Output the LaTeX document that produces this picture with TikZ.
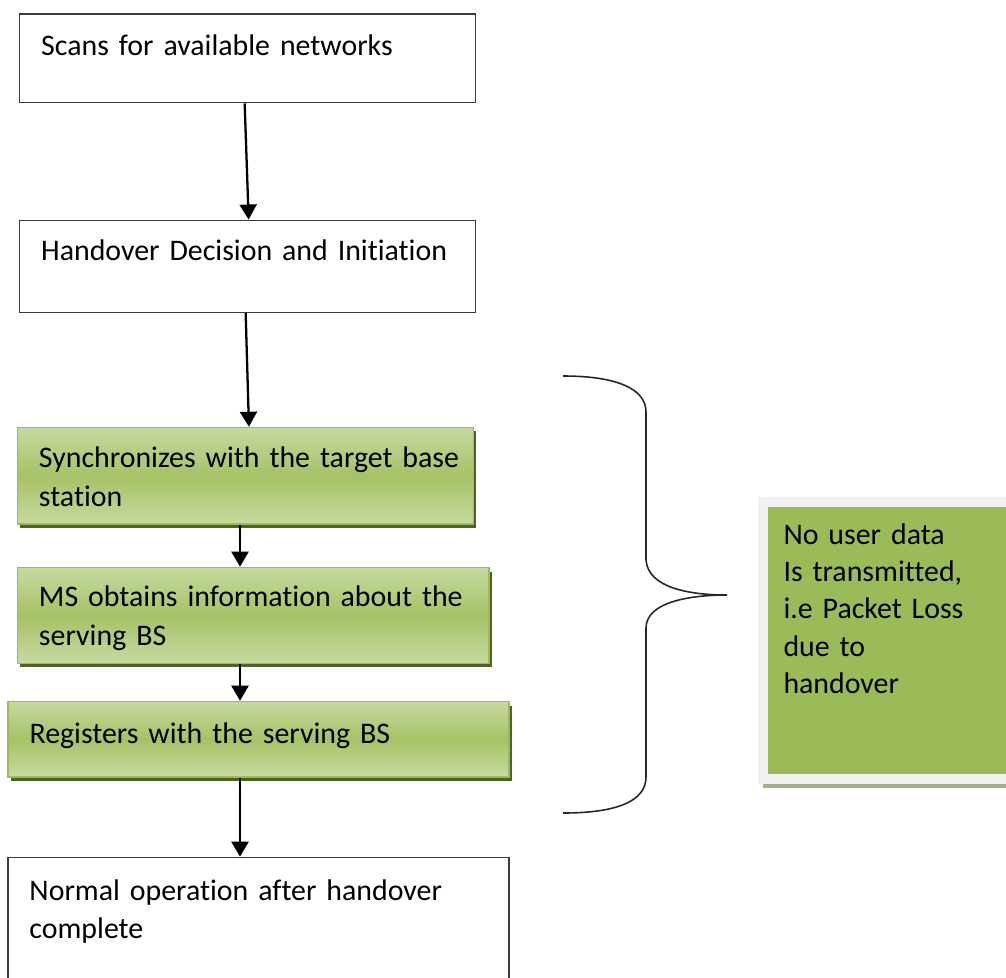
\documentclass[tikz,border=0pt]{standalone}
\usepackage{fontspec}
\setmainfont{Carlito}[Ligatures=NoCommon]
\usetikzlibrary{arrows.meta,shadows}

\definecolor{stepline}{HTML}{3C3C3C}
\definecolor{gEdge}{HTML}{9BBB59}
\definecolor{gLight}{HTML}{C6DAA0}
\definecolor{gMid}{HTML}{A6C266}
\definecolor{gShadow}{HTML}{4F6228}
\definecolor{noteGreen}{HTML}{9BBB59}
\definecolor{noteFrame}{HTML}{F0F0F0}
\definecolor{noteShadow}{HTML}{A3B08C}

\tikzset{
  stepbox/.style={draw=stepline, line width=0.8pt, fill=white, anchor=north west,
    inner xsep=0.43cm, inner ysep=0pt, align=left},
  greenbox/.style={stepbox, draw=gEdge, line width=0.9pt,
    top color=gLight, bottom color=gLight, middle color=gMid,
    drop shadow={shadow xshift=0.06cm, shadow yshift=-0.08cm, fill=gShadow, opacity=1}},
  notebox/.style={anchor=north west, fill=noteGreen, draw=noteFrame, line width=0.2cm,
    inner xsep=0.42cm, inner ysep=0pt, align=left, text width=4.61cm,
    font=\fontsize{17}{21.3}\selectfont,
    drop shadow={shadow xshift=0cm, shadow yshift=-0.18cm, fill=noteShadow, opacity=1}},
  flow/.style={line width=1.3pt, -{Triangle[length=0.3cm,width=0.34cm]}},
}

\begin{document}
\begin{tikzpicture}[x=0.02cm, y=-0.02cm, font=\fontsize{17}{22}\selectfont]
  \path[use as bounding box, clip] (0,0) rectangle (1006,977);

  % scanning
  \node[stepbox, text width=8.26cm, text height=0.834cm, text depth=0.94cm] (scan) at (19,13.3)
    {Scans for available networks};

  % decision
  \node[stepbox, text width=8.26cm, text height=0.81cm, text depth=1.034cm] (decide) at (19,219.5)
    {\mbox{Handover Decision and Initiation}};

  % steps without user data
  \node[greenbox, text width=8.26cm, text height=0.80cm, text depth=1.132cm] (sync) at (16.7,426.7)
    {\mbox{Synchronizes with the target base}\\station};
  \node[greenbox, text width=8.57cm, text height=0.786cm, text depth=1.132cm] (obtain) at (16.7,566.7)
    {\mbox{MS obtains information about the}\\serving BS};
  \node[greenbox, text width=9.16cm, text height=0.84cm, text depth=0.666cm] (register) at (7.3,700.7)
    {Registers with the serving BS};

  % back to normal
  \node[stepbox, text width=9.16cm, text height=0.852cm, text depth=2.8cm] (normal) at (7.3,856.7)
    {Normal operation after handover\\complete};

  % note on the right
  \node[notebox, text height=0.85cm, text depth=4.70cm] (note) at (757.5,496.5)
    {No user data\\Is transmitted,\\i.e Packet Loss\\due to\\handover};

  % arrows
  \coordinate (axis) at (240,0);
  \draw[flow] ([xshift=-0.06cm]scan.south) -- ([xshift=0.02cm]decide.north);
  \draw[flow] ([xshift=-0.04cm]decide.south) -- ([xshift=0.07cm]sync.north);
  \draw[flow] (sync.south -| axis) -- (obtain.north -| axis);
  \draw[flow] (obtain.south -| axis) -- (register.north -| axis);
  \draw[flow] (register.south -| axis) -- (normal.north -| axis);

  % brace
  \draw[line width=0.9pt, black!85] (563,376) .. controls (615,376) and (646,388) .. (646,412)
    -- (646,560) .. controls (648,588) and (690,595) .. (727,595)
    .. controls (690,595) and (646,602) .. (646,628)
    -- (646,777) .. controls (646,802) and (615,813) .. (563,813);
\end{tikzpicture}
\end{document}
